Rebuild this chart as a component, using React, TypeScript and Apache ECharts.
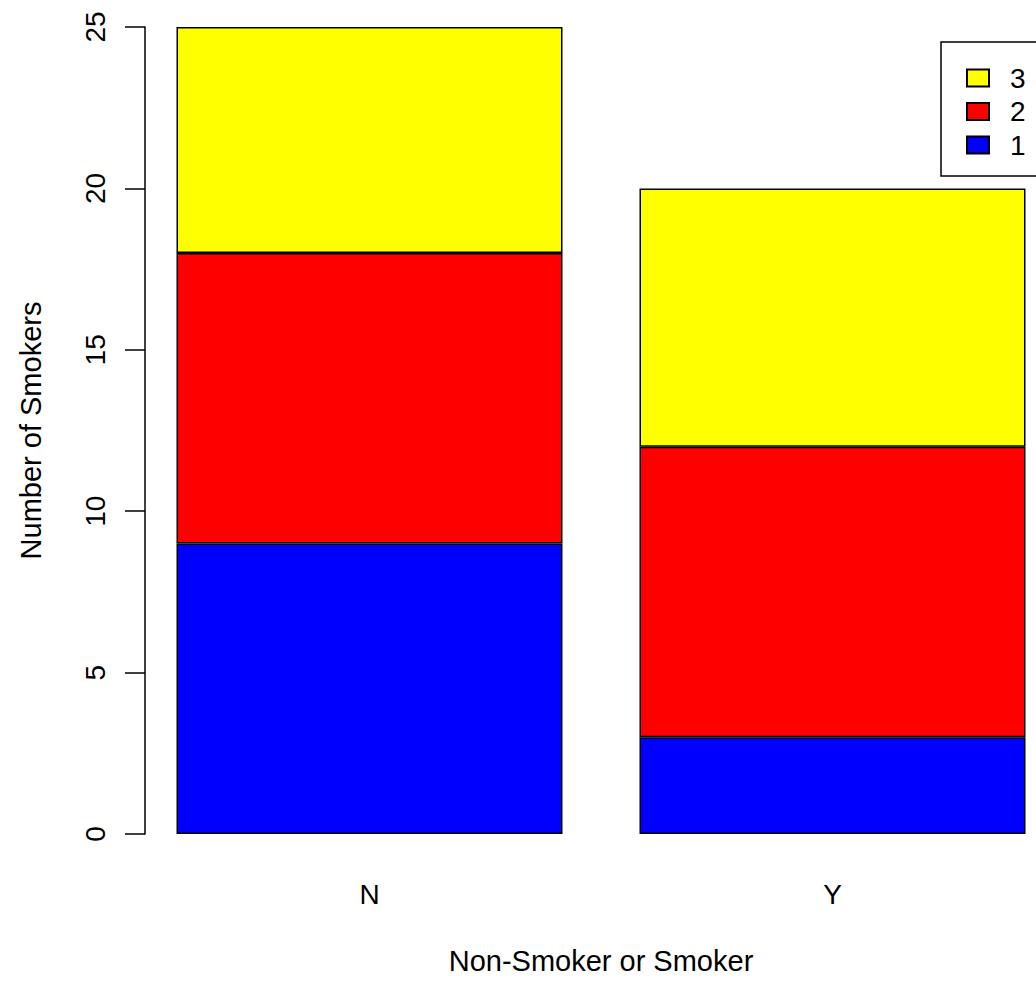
import React, { useEffect, useRef } from "react";
import * as echarts from "echarts";

const categories = ["N", "Y"];
const seriesNames = ["1", "2", "3"];
const level1 = [9, 3];
const level2 = [9, 9];
const level3 = [7, 8];
const colors = ["#0000FF", "#FF0000", "#FFFF00"];
const yTicks = { min: 0, max: 25, interval: 5 };

const FONT = "'Liberation Sans', Arial, sans-serif";
const FS = 28;
const FS_TITLE = 29;

export default function App() {
  const ref = useRef<HTMLDivElement>(null);
  useEffect(() => {
    document.body.style.margin = "0";
    const chart = echarts.init(ref.current!, null, { renderer: "svg" });
    const values = [level1, level2, level3];
    chart.setOption({
      animation: false,
      backgroundColor: "#ffffff",
      textStyle: { fontFamily: FONT },
      grid: { left: 138, top: 27, width: 926, height: 807 },
      legend: {
        data: [...seriesNames].reverse(),
        orient: "vertical",
        left: 941,
        top: 42,
        padding: [22, 60, 17, 25],
        itemWidth: 22,
        itemHeight: 17,
        itemGap: 5.5,
        icon: "rect",
        borderColor: "#000",
        borderWidth: 1.5,
        backgroundColor: "#fff",
        textStyle: {
          fontFamily: FONT,
          fontSize: FS,
          color: "#000",
          padding: [0, 0, 0, 16],
        },
      },
      xAxis: {
        type: "category",
        data: categories,
        axisLine: { show: false },
        axisTick: { show: false },
        axisLabel: { fontFamily: FONT, fontSize: FS, color: "#000", margin: 46 },
        name: "Non-Smoker or Smoker",
        nameLocation: "middle",
        nameGap: 112,
        nameTextStyle: { fontFamily: FONT, fontSize: FS_TITLE, color: "#000" },
      },
      yAxis: {
        type: "value",
        min: yTicks.min,
        max: yTicks.max,
        interval: yTicks.interval,
        offset: -7,
        splitLine: { show: false },
        axisLine: { show: true, lineStyle: { color: "#000", width: 1.5 } },
        axisTick: { show: true, inside: false, length: 20, lineStyle: { color: "#000", width: 1.5 } },
        axisLabel: { fontFamily: FONT, fontSize: FS, color: "#000", rotate: 90, margin: 36 },
        name: "Number of Smokers",
        nameLocation: "middle",
        nameGap: 100,
        nameTextStyle: { fontFamily: FONT, fontSize: FS_TITLE, color: "#000" },
      },
      series: seriesNames.map((name, i) => ({
        name,
        type: "bar",
        stack: "total",
        barWidth: 386,
        data: values[i],
        itemStyle: { color: colors[i], borderColor: "#000", borderWidth: 1.5 },
      })),
    });
    return () => chart.dispose();
  }, []);
  return (
    <div style={{ position: "fixed", left: 0, top: 0, width: 1036, height: 982, overflow: "hidden", background: "#fff" }}>
      <div ref={ref} style={{ width: 1100, height: 982 }} />
    </div>
  );
}
